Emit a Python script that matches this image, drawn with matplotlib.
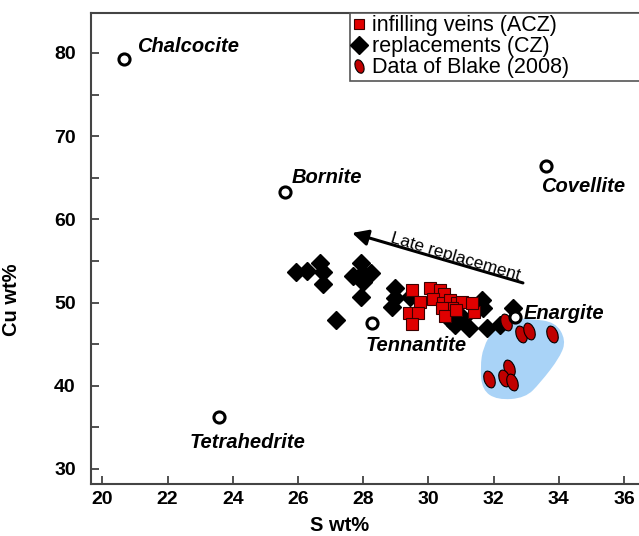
import matplotlib
matplotlib.use("Agg")
import matplotlib.pyplot as plt
import numpy as np
from matplotlib.path import Path
from matplotlib.patches import PathPatch
from matplotlib.markers import MarkerStyle
from matplotlib.transforms import Affine2D
from matplotlib.lines import Line2D

plt.rcParams['font.family'] = ['Liberation Sans', 'DejaVu Sans']

# infilling veins (ACZ) - S wt%, Cu wt%
vein_s = [29.51, 29.75, 29.42, 29.69, 29.49, 30.05, 30.36, 30.48, 30.15, 30.46,
          30.67, 30.87, 31.04, 30.72, 30.41, 30.51, 30.85, 31.41, 31.33]
vein_cu = [51.51, 50.11, 48.79, 48.71, 47.39, 51.79, 51.51, 51.03, 50.43, 49.92,
           50.31, 49.99, 50.11, 49.31, 49.31, 48.43, 49.11, 48.83, 49.92]

# replacements (CZ)
repl_s = [25.94, 26.27, 26.66, 26.76, 26.76, 27.17, 27.70, 27.93, 27.99, 28.23,
          27.99, 27.93, 28.98, 28.98, 28.88, 29.44, 31.64, 31.69, 30.82, 31.07,
          31.23, 31.79, 32.20, 32.61, 30.67]
repl_cu = [53.64, 53.83, 54.72, 53.64, 52.20, 47.91, 53.20, 54.80, 53.52, 53.52,
           52.51, 50.64, 51.72, 50.52, 49.51, 50.71, 50.31, 49.31, 47.31, 48.11,
           46.91, 46.91, 47.31, 49.31, 47.91]

# Blake (2008)
blake_s = [32.37, 32.83, 33.08, 33.79, 32.48, 31.87, 32.32, 32.55]
blake_cu = [47.70, 46.23, 46.59, 46.26, 42.10, 40.78, 40.94, 40.42]

# reference minerals
minerals = ['Chalcocite', 'Bornite', 'Covellite', 'Tennantite', 'Enargite', 'Tetrahedrite']
mineral_s = [20.67, 25.60, 33.61, 28.27, 32.66, 23.58]
mineral_cu = [79.30, 63.30, 66.40, 47.55, 48.30, 36.25]
label_pos = [(21.06, 80.72), (25.82, 64.98), (33.46, 63.90),
             (28.06, 44.90), (32.93, 48.63), (22.66, 33.13)]

# outline of the Blake field
field = [(32.29, 48.15), (33.12, 48.03), (33.89, 47.67), (34.22, 45.50),
         (34.04, 43.46), (33.43, 40.34), (32.97, 38.53), (32.11, 38.29),
         (31.65, 39.50), (31.59, 42.26), (31.68, 44.66), (31.99, 46.71)]

fig = plt.figure(figsize=(6.39, 5.36), dpi=100)
ax = fig.add_axes([0.1424, 0.0965, 0.8576, 0.8787])

# smooth closed outline: quadratic curves through midpoints
pts = np.array(field)
mids = (pts + np.roll(pts, -1, axis=0)) / 2
verts = [tuple(mids[-1])]
codes = [Path.MOVETO]
for i in range(len(pts)):
    verts += [tuple(pts[i]), tuple(mids[i])]
    codes += [Path.CURVE3, Path.CURVE3]
verts.append(verts[0])
codes.append(Path.CLOSEPOLY)
ax.add_patch(PathPatch(Path(verts, codes), facecolor='#a9d3f7', edgecolor='none', zorder=1))

ax.plot(repl_s, repl_cu, 'D', color='black', ms=9, mec='black', zorder=3, ls='none')
ax.plot(vein_s, vein_cu, 's', color='#e00000', ms=9, mec='#3a0000', mew=0.8, zorder=4, ls='none')

ell = MarkerStyle(Path.unit_circle().transformed(Affine2D().scale(0.6, 1.0).rotate_deg(20)))
ax.plot(blake_s, blake_cu, ls='none', marker=ell, color='#c00000', ms=12.5,
        mec='black', mew=0.8, zorder=4)

ax.plot(mineral_s, mineral_cu, 'o', ls='none', ms=8, mfc='white', mec='black', mew=2.2, zorder=5)
for name, (tx, ty) in zip(minerals, label_pos):
    ax.text(tx, ty, name, fontsize=14.5, fontweight='bold', fontstyle='italic',
            ha='left', va='center', zorder=6)

# late replacement trend
ax.annotate('', xy=(27.66, 58.37), xytext=(32.9, 52.36),
            arrowprops=dict(arrowstyle='-|>', color='black', lw=2.2,
                            mutation_scale=24, shrinkA=0, shrinkB=0))
ax.text(30.82, 55.55, 'Late replacement', fontsize=12.5, rotation=-16.5,
        ha='center', va='center', rotation_mode='anchor')

ax.set_xlim(19.65, 36.46)
ax.set_ylim(28.16, 84.77)
ax.set_xticks(np.arange(20, 37, 2))
ax.set_yticks(np.arange(30, 81, 10))
ax.set_yticks(np.arange(35, 81, 10), minor=True)
ax.tick_params(axis='both', which='both', direction='in', length=6, width=1.2, color='#333333')
ax.tick_params(axis='x', pad=5, labelsize=14)
ax.tick_params(axis='y', pad=11, labelsize=14)
for lab in ax.get_xticklabels() + ax.get_yticklabels():
    lab.set_fontweight('bold')

for side in ['left', 'bottom', 'top']:
    ax.spines[side].set_linewidth(1.5)
    ax.spines[side].set_color('#444444')
ax.spines['right'].set_visible(False)

ax.set_xlabel('S wt%', fontsize=14.5, fontweight='bold')
ax.set_ylabel('Cu wt%', fontsize=14.5, fontweight='bold')
ax.xaxis.set_label_coords(0.454, -0.068)
ax.yaxis.set_label_coords(-0.128, 0.391)

handles = [
    Line2D([], [], ls='none', marker='s', ms=7, color='#e00000', mec='#3a0000', mew=0.8),
    Line2D([], [], ls='none', marker='D', ms=9, color='black'),
    Line2D([], [], ls='none', marker=ell, ms=10, color='#c00000', mec='black', mew=0.8),
]
labels = ['infilling veins (ACZ)', 'replacements (CZ)', 'Data of Blake (2008)']
leg = ax.legend(handles, labels,
                loc='upper left', bbox_to_anchor=(0.473, 1.0, 0.6, 0.0), mode='expand',
                fontsize=15.5, handlelength=0.6, handletextpad=0.3, borderpad=0.1,
                labelspacing=0.0, borderaxespad=0, fancybox=False, framealpha=1)
leg.get_frame().set_edgecolor('#555555')
leg.get_frame().set_linewidth(1.2)

fig.savefig('out.png', dpi=100)
